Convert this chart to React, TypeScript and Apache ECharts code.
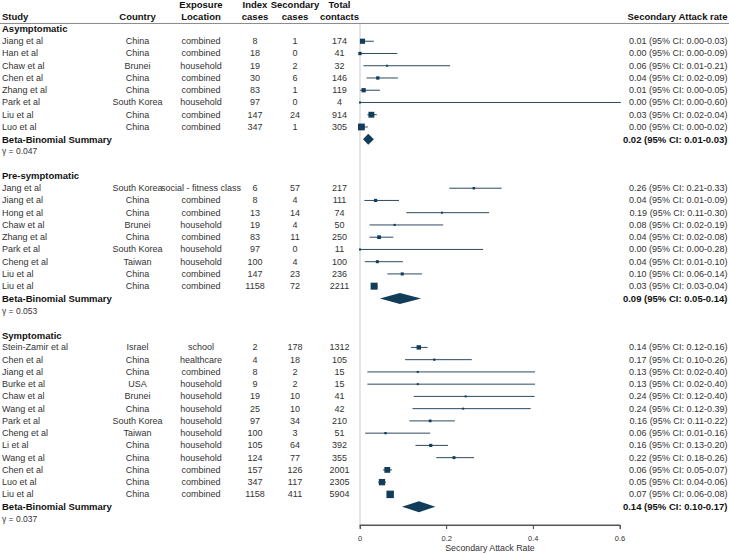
import React, { useEffect, useRef } from 'react';
import * as echarts from 'echarts';

// ---------- data ----------
const groupNames = ['Asymptomatic', 'Pre-symptomatic', 'Symptomatic'];
const gammaValues = ['0.047', '0.053', '0.037'];
const groupOf = [0, 0, 0, 0, 0, 0, 0, 0, 1, 1, 1, 1, 1, 1, 1, 1, 1, 2, 2, 2, 2, 2, 2, 2, 2, 2, 2, 2, 2, 2];
const studies = [
  'Jiang et al', 'Han et al', 'Chaw et al', 'Chen et al', 'Zhang et al', 'Park et al', 'Liu et al', 'Luo et al',
  'Jang et al', 'Jiang et al', 'Hong et al', 'Chaw et al', 'Zhang et al', 'Park et al', 'Cheng et al', 'Liu et al', 'Liu et al',
  'Stein-Zamir et al', 'Chen et al', 'Jiang et al', 'Burke et al', 'Chaw et al', 'Wang et al', 'Park et al', 'Cheng et al',
  'Li et al', 'Wang et al', 'Chen et al', 'Luo et al', 'Liu et al',
];
const countries = [
  'China', 'China', 'Brunei', 'China', 'China', 'South Korea', 'China', 'China',
  'South Korea', 'China', 'China', 'Brunei', 'China', 'South Korea', 'Taiwan', 'China', 'China',
  'Israel', 'China', 'China', 'USA', 'Brunei', 'China', 'South Korea', 'Taiwan', 'China', 'China', 'China', 'China', 'China',
];
const locations = [
  'combined', 'combined', 'household', 'combined', 'combined', 'household', 'combined', 'combined',
  'social - fitness class', 'combined', 'combined', 'household', 'combined', 'household', 'household', 'combined', 'combined',
  'school', 'healthcare', 'combined', 'household', 'household', 'household', 'household', 'household', 'household',
  'household', 'combined', 'combined', 'combined',
];
const indexCases = [8, 18, 19, 30, 83, 97, 147, 347, 6, 8, 13, 19, 83, 97, 100, 147, 1158, 2, 4, 8, 9, 19, 25, 97, 100, 105, 124, 157, 347, 1158];
const secondaryCases = [1, 0, 2, 6, 1, 0, 24, 1, 57, 4, 14, 4, 11, 0, 4, 23, 72, 178, 18, 2, 2, 10, 10, 34, 3, 64, 77, 126, 117, 411];
const totalContacts = [174, 41, 32, 146, 119, 4, 914, 305, 217, 111, 74, 50, 250, 11, 100, 236, 2211, 1312, 105, 15, 15, 41, 42, 210, 51, 392, 355, 2001, 2305, 5904];
const ciLower = [
  0.0002, 0, 0.008, 0.0152, 0.0002, 0, 0.017, 0.0001,
  0.206, 0.01, 0.107, 0.022, 0.022, 0, 0.011, 0.063, 0.0256,
  0.118, 0.104, 0.017, 0.017, 0.124, 0.121, 0.114, 0.012, 0.128, 0.176, 0.053, 0.042, 0.063,
];
const ciUpper = [
  0.032, 0.086, 0.208, 0.0874, 0.046, 0.602, 0.039, 0.018,
  0.327, 0.09, 0.298, 0.192, 0.077, 0.284, 0.099, 0.143, 0.041,
  0.156, 0.258, 0.404, 0.404, 0.403, 0.394, 0.219, 0.162, 0.203, 0.263, 0.074, 0.06, 0.076,
];
const summaryEst = [0.019, 0.092, 0.136];
const summaryLower = [0.007, 0.046, 0.097];
const summaryUpper = [0.032, 0.141, 0.174];
const axisTicks = [0, 0.2, 0.4, 0.6];
const headerTop = ['', '', 'Exposure', 'Index', 'Secondary', 'Total'];
const headerBottom = ['Study', 'Country', 'Location', 'cases', 'cases', 'contacts'];
const sarHeader = 'Secondary Attack rate';
const summaryLabel = 'Beta-Binomial Summary';
const axisName = 'Secondary Attack Rate';

// ---------- styles / layout ----------
const FONT = '"Liberation Sans", Arial, Helvetica, sans-serif';
const TEXT = '#333333';
const BOLD = '#111111';
const BOX = '#113c5a';
const LINE = '#2c4a62';
const AXIS = '#555555';
const COLX = [2, 137.5, 201, 255, 295, 339.5];
const COLALIGN = ['left', 'center', 'center', 'center', 'center', 'center'];
const SARX = 727.5;
const Y_MIN = -2;
const Y_MAX = 40.5;

type Row = { kind: string; r: number; i: number };
const rows: Row[] = [{ kind: 'header', r: -2, i: 0 }];
(() => {
  let r = 0;
  groupNames.forEach((_, gi) => {
    rows.push({ kind: 'group', r: r++, i: gi });
    studies.forEach((_s, si) => {
      if (groupOf[si] === gi) rows.push({ kind: 'study', r: r++, i: si });
    });
    rows.push({ kind: 'summary', r: r++, i: gi });
    rows.push({ kind: 'gamma', r: r++, i: gi });
    r++;
  });
})();

const estOf = (i: number) => secondaryCases[i] / totalContacts[i];
const boxSize = (i: number) => {
  const n = totalContacts[i];
  const p = (secondaryCases[i] + 0.5) / (n + 1);
  const w = (n + 1) / (p * (1 - p));
  return Math.max(2, Math.min(9, 0.43 * Math.pow(w, 0.25)));
};
const fmt = (v: number) => v.toFixed(2);
const sarText = (e: number, l: number, u: number) => `${fmt(e)} (95% CI: ${fmt(l)}-${fmt(u)})`;

function txt(text: string, x: number, y: number, align: string, bold = false, size = 9, color = TEXT) {
  return {
    type: 'text',
    x,
    y,
    style: {
      text,
      fill: color,
      fontSize: size,
      fontFamily: FONT,
      fontWeight: bold ? 'bold' : 'normal',
      align,
      verticalAlign: 'middle',
    },
  };
}

function renderItem(params: any, api: any) {
  const row = rows[params.dataIndex];
  const y = api.coord([0, row.r])[1];
  const children: any[] = [];
  if (row.kind === 'header') {
    const y1 = api.coord([0, -1])[1];
    const yl = api.coord([0, -0.45])[1];
    const z0 = api.coord([0, -0.45]);
    const zb = api.coord([0, Y_MAX]);
    children.push({
      type: 'line',
      shape: { x1: z0[0], y1: z0[1], x2: zb[0], y2: zb[1] },
      style: { stroke: '#dcdcdc', lineWidth: 1.5 },
    });
    // baseline of the x axis and its ticks, through the axis scale
    const a0 = api.coord([axisTicks[0], Y_MAX]);
    const a1 = api.coord([axisTicks[axisTicks.length - 1], Y_MAX]);
    children.push({
      type: 'line',
      shape: { x1: a0[0], y1: a0[1], x2: a1[0], y2: a1[1] },
      style: { stroke: AXIS, lineWidth: 1 },
    });
    axisTicks.forEach((t) => {
      const p = api.coord([t, Y_MAX]);
      children.push({
        type: 'line',
        shape: { x1: p[0], y1: p[1], x2: p[0], y2: p[1] + 4 },
        style: { stroke: AXIS, lineWidth: 1 },
      });
    });
    children.push({
      type: 'line',
      shape: { x1: 0, y1: yl, x2: 729, y2: yl },
      style: { stroke: '#8a8a8a', lineWidth: 1 },
    });
    headerTop.forEach((t, c) => {
      if (t) children.push(txt(t, COLX[c], y, COLALIGN[c], true, 9.5, BOLD));
    });
    headerBottom.forEach((t, c) => children.push(txt(t, COLX[c], y1, COLALIGN[c], true, 9.5, BOLD)));
    children.push(txt(sarHeader, SARX, y1, 'right', true, 9.5, BOLD));
  } else if (row.kind === 'group') {
    children.push(txt(groupNames[row.i], 2, y, 'left', true, 9.5, BOLD));
  } else if (row.kind === 'gamma') {
    children.push(txt(`γ = ${gammaValues[row.i]}`, 2, y, 'left', false, 8.5, TEXT));
  } else if (row.kind === 'summary') {
    const gi = row.i;
    const pe = api.coord([summaryEst[gi], row.r]);
    const pl = api.coord([summaryLower[gi], row.r]);
    const pu = api.coord([summaryUpper[gi], row.r]);
    children.push({
      type: 'polygon',
      shape: { points: [[pl[0], y], [pe[0], y - 5.5], [pu[0], y], [pe[0], y + 5.5]] },
      style: { fill: BOX },
    });
    children.push(txt(summaryLabel, 2, y, 'left', true, 9.5, BOLD));
    children.push(txt(sarText(summaryEst[gi], summaryLower[gi], summaryUpper[gi]), SARX, y, 'right', true, 9.5, BOLD));
  } else {
    const i = row.i;
    const e = estOf(i);
    const pe = api.coord([e, row.r]);
    const pl = api.coord([ciLower[i], row.r]);
    const pu = api.coord([ciUpper[i], row.r]);
    const s = boxSize(i);
    children.push({
      type: 'line',
      shape: { x1: pl[0], y1: y, x2: pu[0], y2: y },
      style: { stroke: LINE, lineWidth: 1 },
    });
    children.push({
      type: 'rect',
      shape: { x: pe[0] - s / 2, y: y - s / 2, width: s, height: s },
      style: { fill: BOX },
    });
    const cols = [studies[i], countries[i], locations[i], String(indexCases[i]), String(secondaryCases[i]), String(totalContacts[i])];
    cols.forEach((t, c) => children.push(txt(t, COLX[c], y, COLALIGN[c])));
    children.push(txt(sarText(e, ciLower[i], ciUpper[i]), SARX, y, 'right'));
  }
  return { type: 'group', children };
}

const option: any = {
  animation: false,
  backgroundColor: '#ffffff',
  grid: { left: 360, right: 109, top: 4.5, bottom: 29, outerBoundsMode: 'none' },
  xAxis: {
    type: 'value',
    min: 0,
    max: 0.6,
    interval: 0.2,
    axisLine: { show: true, onZero: false, lineStyle: { color: AXIS, width: 1 } },
    axisTick: { show: true, length: 4, lineStyle: { color: AXIS } },
    axisLabel: {
      fontSize: 7.5,
      color: TEXT,
      fontFamily: FONT,
      margin: 9,
      formatter: (v: number) => (v === 0 ? '0' : String(Math.round(v * 10) / 10)),
    },
    splitLine: { show: false },
    name: axisName,
    nameLocation: 'middle',
    nameGap: 18.5,
    nameMoveOverlap: false,
    nameTextStyle: { fontSize: 8.8, color: TEXT, fontFamily: FONT },
  },
  yAxis: {
    type: 'value',
    inverse: true,
    min: Y_MIN,
    max: Y_MAX,
    show: false,
    splitLine: { show: false },
  },
  series: [
    {
      type: 'custom',
      renderItem,
      clip: false,
      encode: { x: 0, y: 1 },
      data: rows.map((r) => [0, r.r]),
      silent: true,
    },
  ],
};

export default function App() {
  const ref = useRef<HTMLDivElement>(null);
  useEffect(() => {
    const chart = echarts.init(ref.current as HTMLDivElement, null, { renderer: 'svg' });
    chart.setOption(option);
    return () => chart.dispose();
  }, []);
  return (
    <div
      ref={ref}
      style={{ position: 'fixed', left: 0, top: 0, width: 729, height: 554, background: '#ffffff' }}
    />
  );
}
